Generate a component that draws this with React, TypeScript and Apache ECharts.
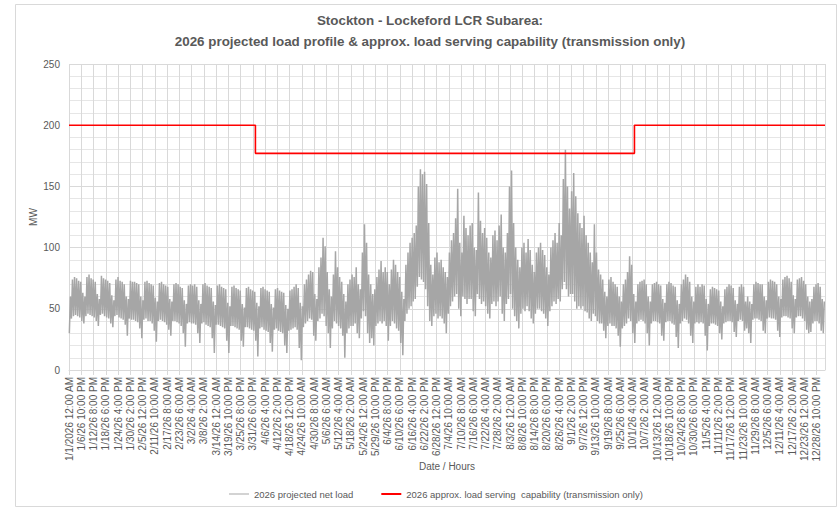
import React, { useEffect, useRef } from 'react';
import * as echarts from 'echarts';

// X-axis tick labels (one every 142 hours)
const xTickLabels = [
  '1/1/2026 12:00 AM', '1/6/26 10:00 PM', '1/12/26 8:00 PM', '1/18/26 6:00 PM', '1/24/26 4:00 PM',
  '1/30/26 2:00 PM', '2/5/26 12:00 PM', '2/11/26 10:00 AM', '2/17/26 8:00 AM', '2/23/26 6:00 AM',
  '3/2/26 4:00 AM', '3/8/26 2:00 AM', '3/14/26 12:00 AM', '3/19/26 10:00 PM', '3/25/26 8:00 PM',
  '3/31/26 6:00 PM', '4/6/26 4:00 PM', '4/12/26 2:00 PM', '4/18/26 12:00 PM', '4/24/26 10:00 AM',
  '4/30/26 8:00 AM', '5/6/26 6:00 AM', '5/12/26 4:00 AM', '5/18/26 2:00 AM', '5/24/26 12:00 AM',
  '5/29/26 10:00 PM', '6/4/26 8:00 PM', '6/10/26 6:00 PM', '6/16/26 4:00 PM', '6/22/26 2:00 PM',
  '6/28/26 12:00 PM', '7/4/26 10:00 AM', '7/10/26 8:00 AM', '7/16/26 6:00 AM', '7/22/26 4:00 AM',
  '7/28/26 2:00 AM', '8/3/26 12:00 AM', '8/8/26 10:00 PM', '8/14/26 8:00 PM', '8/20/26 6:00 PM',
  '8/26/26 4:00 PM', '9/1/26 2:00 PM', '9/7/26 12:00 PM', '9/13/26 10:00 AM', '9/19/26 8:00 AM',
  '9/25/26 6:00 AM', '10/1/26 4:00 AM', '10/7/26 2:00 AM', '10/13/26 12:00 AM', '10/18/26 10:00 PM',
  '10/24/26 8:00 PM', '10/30/26 6:00 PM', '11/5/26 4:00 PM', '11/11/26 2:00 PM', '11/17/26 12:00 PM',
  '11/23/26 10:00 AM', '11/29/26 8:00 AM', '12/5/26 6:00 AM', '12/11/26 4:00 AM', '12/17/26 2:00 AM',
  '12/23/26 12:00 AM', '12/28/26 10:00 PM',
];
const HOURS_PER_TICK = 142;
const HOURS_IN_YEAR = 8760;

// Daily peak / daily minimum of the projected net load (MW)
const janPeak = [60, 74, 76, 75, 73, 72, 63, 60, 76, 78, 75, 74, 72, 62, 58, 77, 75, 74, 73, 71, 61, 57, 74, 76, 73, 72, 70, 60, 58, 73, 72];
const janLow = [30, 42, 44, 45, 44, 43, 40, 38, 44, 46, 45, 44, 43, 40, 36, 45, 46, 44, 43, 42, 38, 35, 44, 45, 43, 42, 41, 37, 28, 42, 41];
const febPeak = [72, 71, 70, 60, 57, 72, 73, 71, 70, 69, 59, 56, 71, 72, 70, 69, 68, 58, 56, 70, 71, 70, 68, 67, 57, 54, 69, 70];
const febLow = [41, 40, 39, 34, 26, 41, 42, 40, 40, 38, 32, 23, 40, 41, 40, 39, 37, 33, 28, 40, 40, 39, 38, 36, 30, 19, 38, 39];
const marPeak = [69, 70, 68, 57, 54, 70, 71, 69, 68, 67, 56, 53, 69, 70, 68, 67, 66, 55, 52, 68, 69, 67, 66, 65, 54, 51, 67, 68, 66, 65, 64];
const marLow = [38, 38, 37, 30, 22, 38, 39, 37, 36, 35, 26, 14, 37, 37, 36, 35, 34, 24, 14, 36, 36, 35, 34, 33, 24, 19, 35, 35, 34, 33, 32];
const aprPeak = [55, 52, 67, 68, 66, 65, 64, 54, 51, 66, 67, 65, 64, 63, 53, 50, 65, 66, 68, 70, 67, 55, 52, 70, 74, 78, 81, 80, 62, 58];
const aprLow = [24, 11, 34, 35, 33, 32, 31, 22, 15, 33, 34, 32, 31, 30, 20, 14, 32, 33, 34, 35, 33, 18, 8, 35, 38, 40, 42, 41, 28, 24];
const mayPeak = [84, 92, 108, 101, 80, 66, 60, 78, 97, 84, 76, 72, 62, 56, 70, 74, 78, 76, 84, 70, 66, 96, 119, 104, 78, 70, 62, 66, 76, 82, 89];
const mayLow = [40, 42, 46, 44, 36, 30, 18, 34, 40, 38, 36, 34, 28, 10, 30, 34, 36, 36, 38, 30, 26, 42, 48, 44, 30, 22, 26, 20, 36, 38, 40];
const junPeak = [80, 84, 80, 70, 82, 90, 86, 80, 76, 64, 58, 86, 96, 104, 108, 112, 118, 150, 164, 160, 162, 152, 120, 86, 78, 92, 96, 88, 90, 84];
const junLow = [38, 40, 36, 24, 36, 40, 38, 34, 32, 22, 12, 40, 46, 50, 52, 56, 58, 68, 76, 74, 72, 66, 52, 40, 36, 44, 46, 42, 44, 42];
const julPeak = [80, 76, 96, 106, 112, 124, 148, 104, 96, 126, 116, 110, 118, 120, 100, 98, 145, 122, 112, 116, 108, 96, 92, 110, 114, 106, 118, 127, 100, 96, 112];
const julLow = [38, 30, 46, 52, 56, 60, 62, 50, 44, 60, 58, 54, 58, 58, 48, 44, 62, 58, 54, 56, 52, 46, 42, 54, 56, 52, 56, 60, 46, 40, 54];
const augPeak = [150, 163, 120, 100, 90, 84, 100, 104, 96, 107, 98, 86, 80, 96, 100, 104, 98, 94, 84, 78, 100, 106, 112, 104, 120, 110, 156, 180, 150, 132, 146];
const augLow = [58, 62, 50, 44, 40, 34, 46, 50, 48, 52, 48, 42, 38, 46, 50, 50, 48, 46, 42, 36, 48, 52, 56, 54, 58, 56, 66, 72, 66, 60, 62];
const sepPeak = [161, 142, 128, 120, 116, 126, 110, 104, 96, 88, 119, 96, 82, 78, 74, 64, 60, 74, 76, 72, 70, 68, 60, 56, 70, 74, 80, 93, 86, 62];
const sepLow = [62, 56, 50, 52, 50, 52, 48, 47, 42, 40, 46, 44, 40, 38, 38, 32, 26, 36, 38, 36, 36, 34, 28, 19, 34, 36, 38, 42, 40, 30];
const octPeak = [56, 70, 72, 73, 74, 70, 60, 56, 70, 71, 72, 70, 69, 58, 55, 70, 72, 71, 69, 68, 57, 54, 70, 74, 78, 76, 72, 60, 56, 68, 70];
const octLow = [22, 38, 40, 41, 40, 38, 30, 20, 38, 40, 40, 39, 38, 28, 24, 39, 40, 40, 38, 37, 27, 18, 38, 40, 42, 41, 38, 28, 22, 38, 39];
const novPeak = [68, 70, 69, 58, 54, 66, 68, 67, 66, 65, 56, 52, 66, 68, 70, 69, 67, 57, 54, 68, 70, 68, 56, 60, 56, 54, 70, 72, 71, 70];
const novLow = [38, 39, 38, 28, 16, 36, 38, 38, 37, 36, 30, 25, 38, 39, 40, 40, 39, 31, 27, 40, 41, 40, 32, 34, 30, 22, 41, 42, 42, 41];
const decPeak = [70, 60, 57, 72, 74, 73, 72, 70, 60, 58, 74, 76, 77, 75, 72, 61, 58, 74, 75, 76, 73, 70, 60, 56, 58, 68, 70, 71, 68, 58, 56];
const decLow = [40, 32, 30, 42, 43, 42, 42, 41, 32, 27, 43, 44, 44, 43, 42, 34, 30, 43, 44, 44, 42, 40, 33, 30, 31, 38, 40, 40, 38, 32, 30];

const monthPeaks = [janPeak, febPeak, marPeak, aprPeak, mayPeak, junPeak, julPeak, augPeak, sepPeak, octPeak, novPeak, decPeak];
const monthLows = [janLow, febLow, marLow, aprLow, mayLow, junLow, julLow, augLow, sepLow, octLow, novLow, decLow];

// Load serving capability step (hour of year where the level starts, MW)
const capabilityStartHours = [0, 2160, 6552, 8760];
const capabilityMW = [200, 177, 200, 200];

const LOW_HOUR = 4;
const PEAK_HOUR = 16;

function buildLoadSeries(): number[][] {
  const pts: number[][] = [];
  let day = 0;
  for (let m = 0; m < monthPeaks.length; m++) {
    const pk = monthPeaks[m];
    const lo = monthLows[m];
    for (let i = 0; i < pk.length; i++) {
      pts.push([day * 24 + LOW_HOUR, lo[i]]);
      pts.push([day * 24 + PEAK_HOUR, pk[i]]);
      day++;
    }
  }
  return pts;
}

const TEXT = '#595959';
const GRID = '#d9d9d9';
const FONT = "'Liberation Sans', Arial, sans-serif";

export default function App() {
  const ref = useRef<HTMLDivElement>(null);
  useEffect(() => {
    if (!ref.current) return;
    const chart = echarts.init(ref.current, undefined, { renderer: 'svg' });
    chart.setOption({
      animation: false,
      backgroundColor: '#ffffff',
      textStyle: { fontFamily: FONT },
      title: {
        text: 'Stockton - Lockeford LCR Subarea:\n2026 projected load profile & approx. load serving capability (transmission only)',
        left: 425,
        textAlign: 'center',
        top: 5,
        textStyle: {
          fontFamily: FONT,
          fontSize: 13.4,
          fontWeight: 'bold',
          color: TEXT,
          lineHeight: 21,
        },
      },
      graphic: [
        {
          type: 'rect',
          shape: { x: 15.5, y: 4.5, width: 821, height: 502 },
          style: { fill: 'none', stroke: GRID, lineWidth: 1 },
          silent: true,
          z: -10,
        },
      ],
      legend: {
        left: 224,
        bottom: 5,
        itemWidth: 20,
        itemHeight: 10,
        itemGap: 28,
        textStyle: { fontSize: 9.5, color: TEXT, fontFamily: FONT },
        data: [
          { name: '2026 projected net load', icon: 'path://M0,4.5 L20,4.5 L20,5.5 L0,5.5 Z', itemStyle: { color: '#a6a6a6' } },
          { name: '2026 approx. load serving  capability (transmission only)', icon: 'path://M0,4 L20,4 L20,6 L0,6 Z', itemStyle: { color: '#ff0000' } },
        ],
      },
      grid: { left: 69, right: 15, top: 64, bottom: 139, containLabel: false },
      xAxis: {
        type: 'value',
        min: 0,
        max: HOURS_IN_YEAR,
        interval: HOURS_PER_TICK,
        name: 'Date / Hours',
        nameLocation: 'middle',
        nameGap: 91,
        nameMoveOverlap: false,
        nameTextStyle: { fontSize: 10, color: TEXT, fontFamily: FONT },
        axisLine: { show: true, lineStyle: { color: GRID } },
        axisTick: { show: true, length: 5, lineStyle: { color: GRID } },
        splitLine: { show: true, lineStyle: { color: GRID, width: 1 } },
        axisLabel: {
          rotate: 90,
          fontSize: 10,
          color: TEXT,
          margin: 7,
          showMaxLabel: false,
          formatter: (v: number) => {
            const idx = Math.round(v / HOURS_PER_TICK);
            if (Math.abs(idx * HOURS_PER_TICK - v) > 0.01) return '';
            return xTickLabels[idx] ?? '';
          },
        },
      },
      yAxis: {
        type: 'value',
        min: 0,
        max: 250,
        interval: 50,
        name: 'MW',
        nameLocation: 'middle',
        nameGap: 31,
        nameMoveOverlap: false,
        nameTextStyle: { fontSize: 10, color: TEXT, fontFamily: FONT },
        axisLine: { show: false },
        axisTick: { show: false },
        axisLabel: { fontSize: 10, color: TEXT, margin: 9 },
        splitLine: { show: true, lineStyle: { color: GRID, width: 1 } },
        minorTick: { show: false, splitNumber: 5 },
        minorSplitLine: { show: true, lineStyle: { color: '#e6e6e6', width: 1 } },
      },
      series: [
        {
          name: '2026 projected net load',
          type: 'line',
          data: buildLoadSeries(),
          symbol: 'none',
          showSymbol: false,
          lineStyle: { color: '#a6a6a6', width: 1.5 },
          itemStyle: { color: '#a6a6a6' },
          z: 2,
        },
        {
          name: '2026 approx. load serving  capability (transmission only)',
          type: 'line',
          step: 'end',
          data: capabilityStartHours.map((h, i) => [h, capabilityMW[i]]),
          symbol: 'none',
          showSymbol: false,
          lineStyle: { color: '#ff0000', width: 1.6 },
          itemStyle: { color: '#ff0000' },
          z: 3,
        },
      ],
    });
    return () => chart.dispose();
  }, []);
  return <div ref={ref} style={{ position: 'absolute', left: 0, top: 0, width: 840, height: 509 }} />;
}
